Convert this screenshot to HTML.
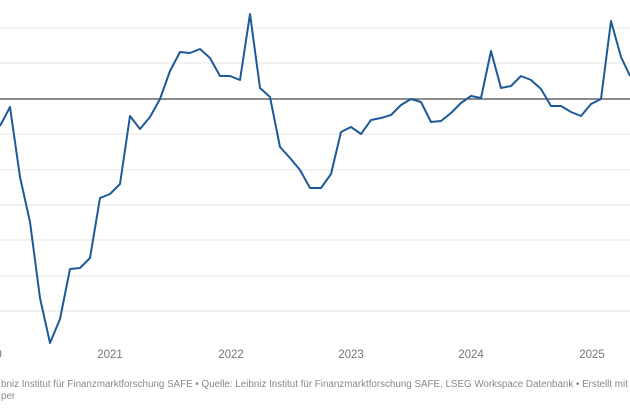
<!DOCTYPE html>
<html><head><meta charset="utf-8"><style>
html,body{margin:0;padding:0;background:#fff;width:630px;height:412px;overflow:hidden}
.f{position:absolute;left:1px;font-family:"Liberation Sans",sans-serif;font-size:9.8px;color:#888;white-space:nowrap}
</style></head><body>
<svg width="630" height="412" style="position:absolute;left:0;top:0" font-family="Liberation Sans, sans-serif">
<g stroke="#e6e6e6" stroke-width="1">
<line x1="0" x2="630" y1="28" y2="28"/><line x1="0" x2="630" y1="63" y2="63"/>
<line x1="0" x2="630" y1="134" y2="134"/><line x1="0" x2="630" y1="170" y2="170"/>
<line x1="0" x2="630" y1="205" y2="205"/><line x1="0" x2="630" y1="240" y2="240"/>
<line x1="0" x2="630" y1="276" y2="276"/><line x1="0" x2="630" y1="311" y2="311"/>
</g>
<line x1="0" x2="630" y1="99" y2="99" stroke="#666" stroke-width="1.5"/>
<polyline fill="none" stroke="#1d5a96" stroke-width="2" stroke-linejoin="round" points="0,126 10,107 20,177 30,222 40,298 50,343 60,319 70,269 80,268 90,258 100,198 110,194 120,184 130,116 140,129 150,117 160,99 170,71 180,52 190,53 200,49 210,58 220,76 230,76 240,80 250,14 260,88 270,97 280,147 290,158 300,170 310,188 321,188 331,174 341,132 351,127 361,134 371,120 381,118 391,115 401,105 411,99 421,102 431,122 441,121 451,113 461,103 471,96 481,98 491,51 501,88 511,86 521,76 531,80 541,89 551,106 561,106 571,112 581,116 591,104 601,99 611,21 621,57 630,76"/>
<g fill="#777" font-size="11.5" text-anchor="middle">
<text x="-11" y="358">2020</text><text x="110" y="358">2021</text><text x="231" y="358">2022</text>
<text x="351" y="358">2023</text><text x="471" y="358">2024</text><text x="592" y="358">2025</text>
</g>
</svg>
<div class="f" style="top:379px">bniz Institut für Finanzmarktforschung SAFE • Quelle: Leibniz Institut für Finanzmarktforschung SAFE, LSEG Workspace Datenbank • Erstellt mit</div>
<div class="f" style="top:391px">per</div>
</body></html>
